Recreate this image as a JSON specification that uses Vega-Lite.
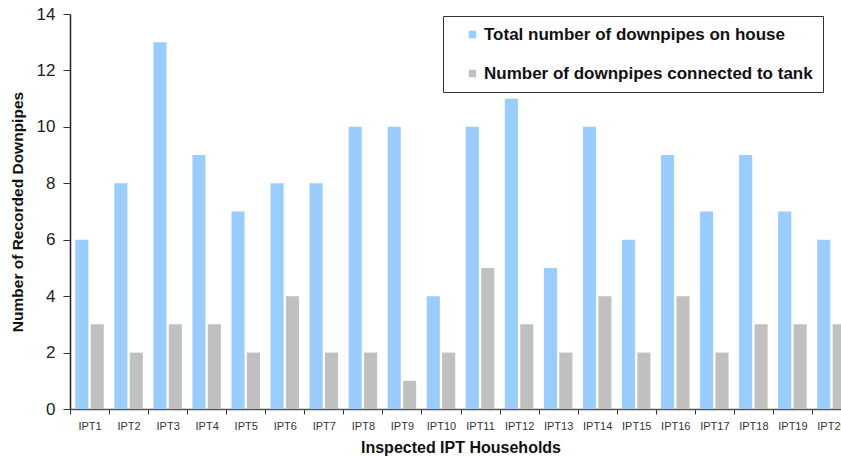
{
  "$schema": "https://vega.github.io/schema/vega-lite/v6.json",
  "autosize": "none",
  "width": 781,
  "height": 395,
  "padding": {"left": 70, "top": 14, "right": 0, "bottom": 48},
  "background": "white",
  "config": {
    "view": {"stroke": null},
    "font": "Liberation Sans"
  },
  "data": {
    "values": [
      {"house": "IPT1", "series": "Total number of downpipes on house", "count": 6},
      {"house": "IPT1", "series": "Number of downpipes connected to tank", "count": 3},
      {"house": "IPT2", "series": "Total number of downpipes on house", "count": 8},
      {"house": "IPT2", "series": "Number of downpipes connected to tank", "count": 2},
      {"house": "IPT3", "series": "Total number of downpipes on house", "count": 13},
      {"house": "IPT3", "series": "Number of downpipes connected to tank", "count": 3},
      {"house": "IPT4", "series": "Total number of downpipes on house", "count": 9},
      {"house": "IPT4", "series": "Number of downpipes connected to tank", "count": 3},
      {"house": "IPT5", "series": "Total number of downpipes on house", "count": 7},
      {"house": "IPT5", "series": "Number of downpipes connected to tank", "count": 2},
      {"house": "IPT6", "series": "Total number of downpipes on house", "count": 8},
      {"house": "IPT6", "series": "Number of downpipes connected to tank", "count": 4},
      {"house": "IPT7", "series": "Total number of downpipes on house", "count": 8},
      {"house": "IPT7", "series": "Number of downpipes connected to tank", "count": 2},
      {"house": "IPT8", "series": "Total number of downpipes on house", "count": 10},
      {"house": "IPT8", "series": "Number of downpipes connected to tank", "count": 2},
      {"house": "IPT9", "series": "Total number of downpipes on house", "count": 10},
      {"house": "IPT9", "series": "Number of downpipes connected to tank", "count": 1},
      {"house": "IPT10", "series": "Total number of downpipes on house", "count": 4},
      {"house": "IPT10", "series": "Number of downpipes connected to tank", "count": 2},
      {"house": "IPT11", "series": "Total number of downpipes on house", "count": 10},
      {"house": "IPT11", "series": "Number of downpipes connected to tank", "count": 5},
      {"house": "IPT12", "series": "Total number of downpipes on house", "count": 11},
      {"house": "IPT12", "series": "Number of downpipes connected to tank", "count": 3},
      {"house": "IPT13", "series": "Total number of downpipes on house", "count": 5},
      {"house": "IPT13", "series": "Number of downpipes connected to tank", "count": 2},
      {"house": "IPT14", "series": "Total number of downpipes on house", "count": 10},
      {"house": "IPT14", "series": "Number of downpipes connected to tank", "count": 4},
      {"house": "IPT15", "series": "Total number of downpipes on house", "count": 6},
      {"house": "IPT15", "series": "Number of downpipes connected to tank", "count": 2},
      {"house": "IPT16", "series": "Total number of downpipes on house", "count": 9},
      {"house": "IPT16", "series": "Number of downpipes connected to tank", "count": 4},
      {"house": "IPT17", "series": "Total number of downpipes on house", "count": 7},
      {"house": "IPT17", "series": "Number of downpipes connected to tank", "count": 2},
      {"house": "IPT18", "series": "Total number of downpipes on house", "count": 9},
      {"house": "IPT18", "series": "Number of downpipes connected to tank", "count": 3},
      {"house": "IPT19", "series": "Total number of downpipes on house", "count": 7},
      {"house": "IPT19", "series": "Number of downpipes connected to tank", "count": 3},
      {"house": "IPT20", "series": "Total number of downpipes on house", "count": 6},
      {"house": "IPT20", "series": "Number of downpipes connected to tank", "count": 3}
    ]
  },
  "mark": {"type": "bar"},
  "encoding": {
    "x": {
      "field": "house",
      "type": "nominal",
      "sort": null,
      "scale": {"paddingInner": 0.27, "paddingOuter": 0.135},
      "axis": {
        "title": "Inspected IPT Households",
        "titleFont": "Liberation Sans",
        "titleFontSize": 16,
        "titleFontWeight": "bold",
        "titleColor": "#111111",
        "titlePadding": 8,
        "labelAngle": 0,
        "labelFont": "Liberation Sans",
        "labelFontSize": 11,
        "labelColor": "#333333",
        "labelPadding": 6,
        "tickOffset": -19.5,
        "labelOffset": 19.5,
        "tickSize": 5,
        "tickColor": "#333333",
        "domainColor": "#555555",
        "domainWidth": 1.5,
        "grid": false
      }
    },
    "xOffset": {
      "field": "series",
      "type": "nominal",
      "scale": {
        "domain": ["Total number of downpipes on house", "Number of downpipes connected to tank"],
        "paddingInner": 0.15
      }
    },
    "y": {
      "field": "count",
      "type": "quantitative",
      "scale": {"domain": [0, 14], "nice": false},
      "axis": {
        "title": "Number of Recorded Downpipes",
        "titleFont": "Liberation Sans",
        "titleFontSize": 15.5,
        "titleFontWeight": "bold",
        "titleColor": "#111111",
        "titlePadding": 11,
        "values": [0, 2, 4, 6, 8, 10, 12, 14],
        "labelFont": "Liberation Sans",
        "labelFontSize": 17,
        "labelColor": "#222222",
        "labelPadding": 8,
        "tickSize": 7,
        "tickColor": "#333333",
        "domainColor": "#222222",
        "domainWidth": 1.5,
        "grid": false
      }
    },
    "color": {
      "field": "series",
      "type": "nominal",
      "scale": {
        "domain": ["Total number of downpipes on house", "Number of downpipes connected to tank"],
        "range": ["#99CCFF", "#C0C0C0"]
      },
      "legend": {
        "title": null,
        "orient": "none",
        "legendX": 373,
        "legendY": 2,
        "direction": "vertical",
        "strokeColor": "#333333",
        "fillColor": "white",
        "padding": 10,
        "symbolType": "square",
        "symbolSize": 56,
        "symbolStrokeWidth": 0,
        "symbolOffset": 11,
        "labelFont": "Liberation Sans",
        "labelFontSize": 17,
        "labelFontWeight": "bold",
        "labelColor": "#111111",
        "labelOffset": 3,
        "labelExpr": "datum.label + '\u00a0\u00a0\u00a0\u00a0\u00a0\u00a0\u00a0'",
        "rowPadding": 21,
        "labelLimit": 500
      }
    }
  }
}
